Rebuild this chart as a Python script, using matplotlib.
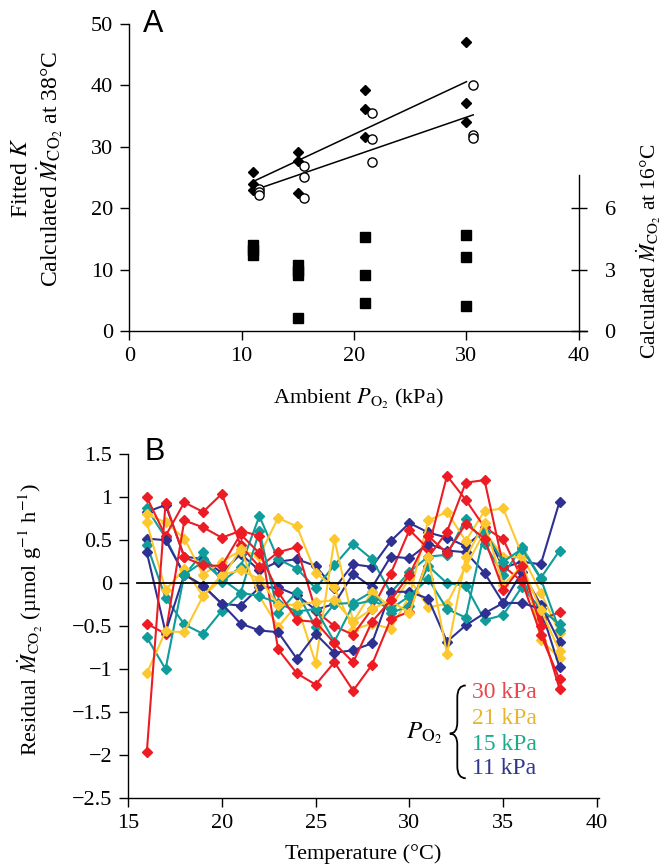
import numpy as np
import matplotlib
matplotlib.use('Agg')
import matplotlib.pyplot as plt
from matplotlib.path import Path
from matplotlib.patches import PathPatch
from matplotlib.ticker import FuncFormatter

# ---------------- data : panel A ----------------
po2_levels = [11, 15, 21, 30]

# filled diamonds (left axis)
diam_x = [11, 11, 11, 15, 15, 15, 21, 21, 21, 30, 30, 30]
diam_y = [25.9, 24.0, 23.0, 29.2, 27.7, 22.5, 39.2, 36.2, 31.6, 47.0, 37.2, 34.0]

# open circles (left axis), plotted slightly right of the level
circ_x = [11.5, 11.5, 11.5, 15.5, 15.5, 15.5, 21.6, 21.6, 21.6, 30.6, 30.6, 30.6]
circ_y = [23.2, 22.6, 22.1, 26.9, 25.1, 21.6, 35.5, 31.2, 27.6, 40.0, 31.9, 31.4]

# fitted lines
fit1_x = [11.2, 30.0]
fit1_y = [24.5, 40.6]
fit2_x = [11.2, 30.6]
fit2_y = [23.0, 35.2]

# filled squares (right axis, M_CO2 at 16 C)
sq_x = [11, 11, 11, 15, 15, 15, 15, 21, 21, 21, 30, 30, 30]
sq_y = [4.2, 3.95, 3.7, 3.2, 2.95, 2.75, 0.62, 4.6, 2.72, 1.37, 4.67, 3.63, 1.22]

# ---------------- data : panel B ----------------
temps = list(range(16, 39))

red_lines = [
    [1.00, 0.55, 0.94, 0.83, 1.04, 0.44, 0.19, 0.36, 0.42, -0.32, -0.50, -0.60, -0.30, 0.11, 0.62, 0.40, 1.25, 0.97, 0.65, 0.51, 0.05, -0.42, -0.34],
    [-0.47, -0.59, 0.73, 0.65, 0.53, 0.61, 0.55, -0.77, -1.05, -1.18, -0.92, -1.25, -0.95, -0.42, -0.33, 0.30, 0.60, 1.17, 1.20, 0.20, 0.02, -0.60, -1.12],
    [-1.97, 0.93, 0.30, 0.21, 0.20, 0.57, 0.35, -0.10, -0.43, -0.45, -0.70, -0.92, -0.45, -0.20, 0.10, 0.55, 0.35, 0.69, 0.52, -0.08, 0.20, -0.50, -1.23],
]
yellow_lines = [
    [0.80, 0.71, 0.52, 0.10, 0.25, 0.38, 0.32, 0.76, 0.66, 0.12, -0.05, -0.54, -0.47, -0.53, -0.15, 0.73, 0.83, 0.49, 0.84, 0.87, 0.33, -0.11, -0.58],
    [0.71, -0.08, 0.17, -0.15, 0.05, 0.40, -0.15, -0.51, -0.25, -0.93, 0.51, -0.45, -0.10, -0.28, 0.05, -0.28, -0.24, 0.19, 0.60, 0.31, 0.30, -0.66, -0.87],
    [-1.05, -0.56, -0.57, -0.15, 0.10, 0.15, 0.05, -0.25, -0.25, -0.22, -0.20, -0.45, -0.30, -0.20, -0.35, 0.30, -0.82, 0.30, 0.70, -0.02, 0.20, -0.31, -0.79],
]
teal_lines = [
    [0.87, 0.53, 0.09, 0.36, 0.015, 0.19, 0.78, 0.28, 0.17, -0.06, 0.21, 0.46, 0.28, -0.11, 0.13, 0.31, 0.33, 0.75, 0.46, 0.10, 0.42, 0.06, 0.38],
    [0.45, -0.17, -0.48, -0.59, -0.32, -0.12, 0.61, -0.35, -0.10, -0.51, -0.24, -0.23, -0.10, -0.35, -0.26, 0.20, 0.00, -0.03, -0.43, -0.37, -0.04, -0.30, -0.48],
    [-0.63, -1.00, 0.10, 0.25, 0.05, -0.11, -0.15, -0.23, -0.33, -0.30, -0.68, -0.25, -0.20, -0.30, -0.15, 0.05, -0.30, -0.40, 0.60, 0.25, 0.40, 0.05, -0.55],
]
blue_lines = [
    [0.83, 0.91, 0.31, 0.28, 0.12, 0.34, 0.15, 0.25, 0.28, 0.20, -0.06, 0.22, 0.19, 0.49, 0.70, 0.59, 0.53, 0.43, 0.62, 0.18, 0.25, 0.22, 0.95],
    [0.52, 0.50, 0.105, -0.03, -0.24, -0.26, -0.05, -0.05, -0.14, -0.31, -0.24, 0.11, -0.05, 0.31, 0.29, 0.46, 0.38, 0.36, 0.12, -0.23, 0.13, -0.25, -0.69],
    [0.36, -0.57, 0.10, -0.03, -0.24, -0.47, -0.55, -0.57, -0.88, -0.59, -0.81, -0.78, -0.70, -0.10, -0.10, -0.18, -0.68, -0.49, -0.35, -0.23, -0.23, -0.30, -0.98],
]

legend_labels = ['30 kPa', '21 kPa', '15 kPa', '11 kPa']
line_colors = ['#ED1C24', '#FDC82F', '#0F9C9A', '#2E3192']
text_colors = ['#E8474B', '#E6B72E', '#1AAB8A', '#30358F']

# ---------------- style ----------------
plt.rcParams['font.family'] = ['Liberation Serif', 'DejaVu Serif']
plt.rcParams['mathtext.fontset'] = 'stix'
plt.rcParams['axes.linewidth'] = 1.0
fs = 16

fig = plt.figure(figsize=(6.63, 8.66), dpi=100)

# ---------------- panel A ----------------
axA = fig.add_axes([0.1950, 0.6178, 0.690, 0.3545])
axA.plot(fit1_x, fit1_y, color='black', lw=1.1, zorder=2)
axA.plot(fit2_x, fit2_y, color='black', lw=1.1, zorder=2)
axA.plot(diam_x, diam_y, 'D', color='black', ms=4.6, zorder=3)
axA.plot(circ_x, circ_y, 'o', mfc='white', mec='black', mew=1.0, ms=6.6, zorder=4)
axA.set_xlim(0, 40.7)
axA.set_ylim(0, 50)
axA.set_xticks([0, 10, 20, 30, 40])
axA.set_yticks([0, 10, 20, 30, 40, 50])
axA.spines['top'].set_visible(False)
axA.spines['right'].set_visible(False)
axA.tick_params(direction='out', length=6.5, width=1.0, labelsize=fs, pad=5)
axA.set_xlabel(r'Ambient $P_{\mathrm{O}_2}$ (kPa)', fontsize=fs, labelpad=15)

ax2 = axA.twinx()
ax2.plot(sq_x, sq_y, 's', color='black', ms=7.0, zorder=3)
ax2.set_ylim(0, 15)
ax2.set_yticks([0, 3, 6])
for s in ['top', 'left', 'bottom']:
    ax2.spines[s].set_visible(False)
ax2.spines['right'].set_position(('data', 40))
ax2.spines['right'].set_bounds(0, 7.6)
ax2.tick_params(axis='y', direction='inout', length=11, width=1.0, labelsize=fs, pad=13)
ax2.set_ylabel(r'Calculated $\dot{M}_{\mathrm{CO}_2}$ at 16°C', fontsize=fs - 0.5)
ax2.yaxis.set_label_coords(1.103, 0.26)

# two-line left label
fig.text(0.033, 0.795, r'Fitted $K$', rotation=90, fontsize=fs + 1, ha='center', va='center')
fig.text(0.075, 0.805, r'Calculated $\dot{M}_{\mathrm{CO}_2}$ at 38°C', rotation=90, fontsize=fs + 1,
         ha='center', va='center')
fig.text(0.215, 0.972, 'A', fontsize=22, family='Liberation Sans', ha='left', va='center')

# ---------------- panel B ----------------
axB = fig.add_axes([0.1931, 0.0785, 0.7103, 0.3969])
groups = [red_lines, yellow_lines, teal_lines, blue_lines]
for i in range(3):
    for col, grp in zip(line_colors[::-1], groups[::-1]):
        axB.plot(temps, grp[i], '-D', color=col, lw=1.5, ms=5.3, zorder=3)

axB.plot([15.5, 39.6], [0, 0], color='black', lw=1.3, zorder=4)
axB.set_xlim(15, 40.1)
axB.set_ylim(-2.5, 1.5)
axB.set_xticks([15, 20, 25, 30, 35, 40])
axB.set_yticks(np.arange(-2.5, 1.51, 0.5))
axB.yaxis.set_major_formatter(FuncFormatter(lambda v, p: f'{v:g}'.replace('-', '\u2212')))
axB.spines['top'].set_visible(False)
axB.spines['right'].set_visible(False)
axB.tick_params(direction='out', length=6.5, width=1.0, labelsize=fs, pad=5)
axB.set_xlabel('Temperature (°C)', fontsize=fs, labelpad=8)
axB.set_ylabel(r'Residual $\dot{M}_{\mathrm{CO}_2}$ (µmol g$^{-1}$ h$^{-1}$)', fontsize=fs)
axB.yaxis.set_label_coords(-0.176, 0.52)
fig.text(0.218, 0.478, 'B', fontsize=22, family='Liberation Sans', ha='left', va='center')

# brace legend
brace = Path([(33.0, -1.19), (32.55, -1.19), (32.55, -1.33), (32.55, -1.62),
              (32.55, -1.75), (32.15, -1.75), (32.55, -1.75), (32.55, -1.88),
              (32.55, -2.13), (32.55, -2.27), (33.0, -2.27)],
             [Path.MOVETO, Path.CURVE3, Path.CURVE3, Path.LINETO,
              Path.CURVE3, Path.CURVE3, Path.CURVE3, Path.CURVE3,
              Path.LINETO, Path.CURVE3, Path.CURVE3])
axB.add_patch(PathPatch(brace, facecolor='none', edgecolor='black', lw=1.3))
axB.text(30.8, -1.75, r'$P_{\mathrm{O}_2}$', fontsize=fs + 2, ha='center', va='center')
leg_y = [-1.27, -1.58, -1.88, -2.16]
for lab, col, yy in zip(legend_labels, text_colors, leg_y):
    axB.text(33.35, yy, lab, color=col, fontsize=fs + 1, ha='left', va='center')

fig.savefig('out.png', dpi=100)
